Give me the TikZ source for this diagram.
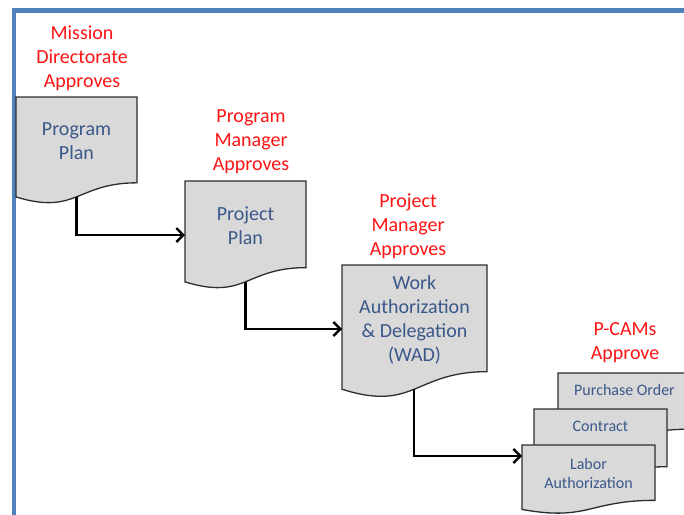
\documentclass[tikz,border=0pt]{standalone}
\usepackage{fontspec}
\setmainfont{Carlito}
\usetikzlibrary{arrows.meta,calc}
\definecolor{frameblue}{RGB}{79,129,189}
\definecolor{docfill}{RGB}{217,217,217}
\definecolor{docedge}{RGB}{45,45,45}
\definecolor{doctxt}{RGB}{58,88,138}
\definecolor{apprred}{RGB}{255,20,20}
\tikzset{
  docbox/.style={fill=docfill,draw=docedge,line width=1.3pt,line join=miter},
  bigtext/.style={text=doctxt,align=center,font=\fontsize{20}{24}\selectfont,inner sep=0pt},
  smalltext/.style={text=doctxt,align=center,font=\fontsize{16}{19.5}\selectfont,inner sep=0pt},
  approve/.style={text=apprred,align=center,font=\fontsize{20}{24}\selectfont,inner sep=0pt},
  flow/.style={draw=black,line width=2.6pt,-{Straight Barb[length=7pt,width=14pt,line width=2.4pt]}}
}
% #1 L, #2 T, #3 W, #4 h
\newcommand\mydocshape[4]{%
  \path[docbox] (#1,#2) -- ({#1+#3},#2) -- ({#1+#3},{#2+0.802*#4})
    .. controls ({#1+#3/2},{#2+0.802*#4}) and ({#1+#3/2},{#2+1.1075*#4}) ..
    (#1,{#2+0.934*#4}) -- cycle;}
\begin{document}
\begin{tikzpicture}[x=1pt,y=-1pt]
\useasboundingbox (0,0) rectangle (684,514);
\clip (0,0) rectangle (684,514);
\fill[white] (0,0) rectangle (684,514);
% frame
\draw[frameblue,line width=4.4pt] (14,520) -- (14,10.5) -- (690,10.5);

% documents
\mydocshape{16}{97}{121}{107}
\node[bigtext] (pptext) at (76.5,141) {Program\\Plan};
\coordinate (pp-out) at (76.5,196.8);

\mydocshape{185}{181}{121}{108}
\node[bigtext] (projtext) at (245.5,225.5) {Project\\Plan};
\coordinate (proj-in) at (185,235);
\coordinate (proj-out) at (245.5,281.8);

\mydocshape{342}{265}{145}{133}
\node[bigtext] (wadtext) at (414.5,320) {Work\\Authorization\\\& Delegation\\(WAD)};
\coordinate (wad-in) at (342,329);
\coordinate (wad-out) at (414,389);

\mydocshape{558}{373}{133}{70}
\node[smalltext] (potext) at (624.5,390) {Purchase Order};

\mydocshape{534}{409}{133}{72}
\node[smalltext] (context) at (600.5,426) {Contract};

\mydocshape{522}{445}{133}{69}
\node[smalltext] (labtext) at (588.5,473.5) {Labor\\Authorization};
\coordinate (lab-in) at (522,456);

% approval labels
\node[approve] (mda) at (82,58) {Mission\\Directorate\\Approves};
\node[approve] (pma) at (251,142) {Program\\Manager\\Approves};
\node[approve] (pja) at (408,226) {Project\\Manager\\Approves};
\node[approve] (pca) at (625,343) {P-CAMs\\Approve};

% connectors
\draw[flow] (pp-out) |- (proj-in);
\draw[flow] (proj-out) |- (wad-in);
\draw[flow] (wad-out) |- (lab-in);
\end{tikzpicture}
\end{document}
